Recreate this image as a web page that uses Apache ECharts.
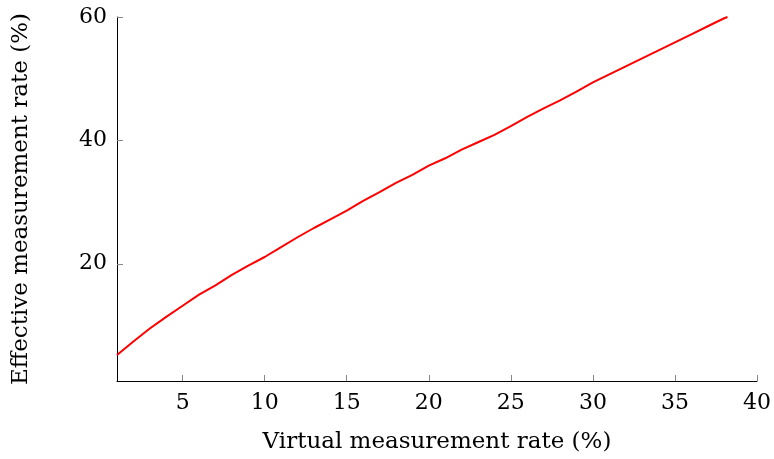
<!DOCTYPE html>
<html>
<head>
<meta charset="utf-8">
<script src="https://cdn.jsdelivr.net/npm/echarts@6/dist/echarts.min.js"></script>
<style>
  html, body { margin: 0; padding: 0; background: #fff; }
  #chart { width: 774px; height: 459px; }
</style>
</head>
<body>
<div id="chart"></div>
<script>
// virtual measurement rate (%)
var virtualRate = [1, 2, 3, 4, 5, 6, 7, 8, 9, 10, 11, 12, 13, 14, 15, 16, 17, 18, 19, 20,
  21, 22, 23, 24, 25, 26, 27, 28, 29, 30, 31, 32, 33, 34, 35, 36, 37, 38, 38.2];
// effective measurement rate (%)
var effectiveRate = [5.2, 7.4, 9.5, 11.4, 13.2, 15.0, 16.5, 18.2, 19.7, 21.1, 22.7, 24.3, 25.8, 27.2, 28.6, 30.2, 31.6, 33.1, 34.4, 35.9,
  37.1, 38.5, 39.7, 40.9, 42.3, 43.8, 45.2, 46.5, 47.9, 49.4, 50.7, 52.0, 53.3, 54.6, 55.9, 57.2, 58.5, 59.8, 60.0];
var xTicks = [5, 10, 15, 20, 25, 30, 35, 40];
var yTicks = [20, 40, 60];

var font = '"DejaVu Serif", "Liberation Serif", serif';
var chart = echarts.init(document.getElementById('chart'));

var points = virtualRate.map(function (v, i) { return [v, effectiveRate[i]]; });

chart.setOption({
  animation: false,
  grid: { left: 117, right: 16, top: 17, bottom: 77 },
  xAxis: {
    type: 'value',
    min: 1,
    max: 40,
    name: 'Virtual measurement rate (%)',
    nameLocation: 'middle',
    nameGap: 50,
    nameTextStyle: { fontFamily: font, fontSize: 23, color: '#000' },
    splitLine: { show: false },
    axisLine: { show: true, lineStyle: { color: '#000', width: 1 } },
    axisTick: { show: true, inside: true, length: 6, customValues: xTicks, lineStyle: { color: '#888' } },
    axisLabel: { customValues: xTicks, fontFamily: font, fontSize: 22, color: '#000', margin: 11 }
  },
  yAxis: {
    type: 'value',
    min: 1,
    max: 60,
    name: 'Effective measurement rate (%)',
    nameLocation: 'middle',
    nameGap: 84,
    nameRotate: 90,
    nameTextStyle: { fontFamily: font, fontSize: 23, color: '#000' },
    splitLine: { show: false },
    axisLine: { show: true, lineStyle: { color: '#000', width: 1 } },
    axisTick: { show: true, inside: true, length: 6, customValues: yTicks, lineStyle: { color: '#888' } },
    axisLabel: { customValues: yTicks, fontFamily: font, fontSize: 22, color: '#000', margin: 10 }
  },
  series: [{
    type: 'line',
    data: points,
    showSymbol: false,
    lineStyle: { color: '#ff0000', width: 2 }
  }]
});
</script>
</body>
</html>
